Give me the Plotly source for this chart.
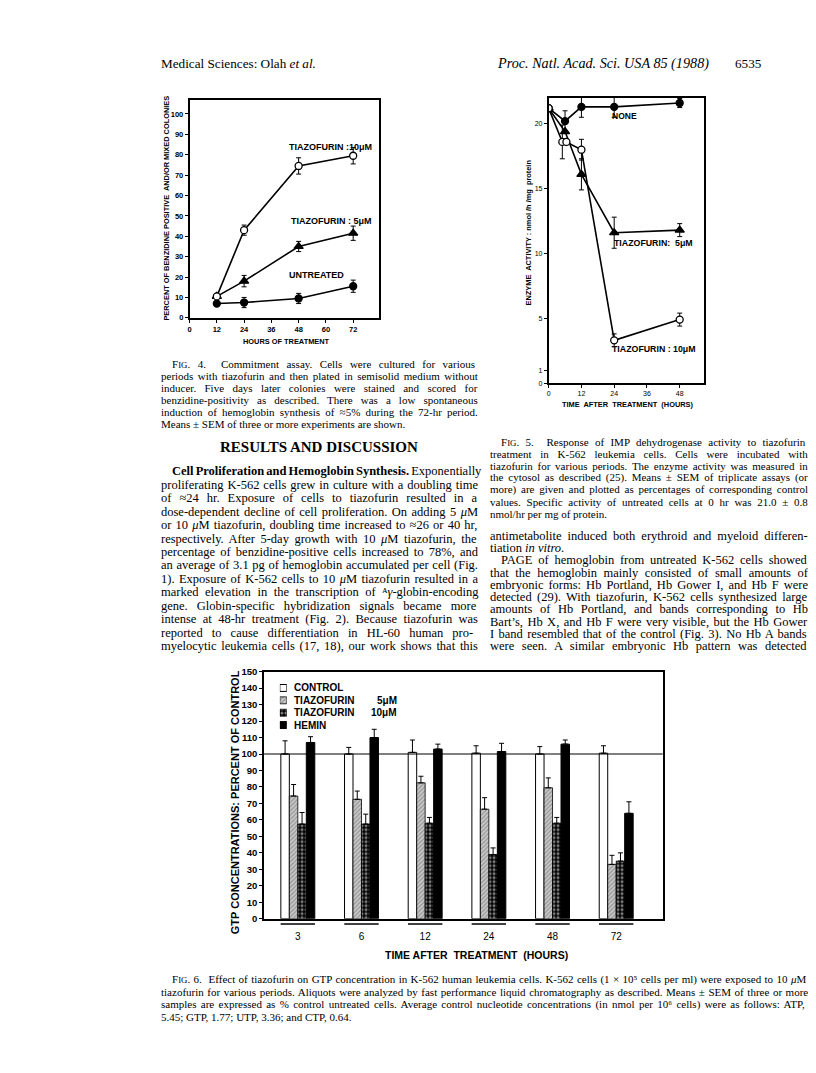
import re
import plotly.graph_objects as go

# the page body keeps its default 8px margin, so the figure is drawn 8px in
PAD = 8
W, H = 816 - PAD, 1073 - PAD
SERIF = 'Liberation Serif'
SANS = 'Liberation Sans'


def fx(px):
    return (px - PAD) / W


def fy(py):
    return 1 - (py - PAD) / H


# ---------------- Fig. 4 data (commitment assay)
hours4 = [12, 24, 48, 72]
tiaz10_4 = [10.5, 43, 74.5, 79.5]
tiaz10_4_err = [0, 2.5, 4, 4]
tiaz5_4 = [10.5, 18, 35, 41.5]
tiaz5_4_err = [0, 2.8, 2.5, 3.5]
untreated_4 = [7, 7.5, 9.5, 15.5]
untreated_4_err = [0, 2.5, 2.5, 3]
xticks4 = [0, 12, 24, 36, 48, 60, 72]

# ---------------- Fig. 5 data (IMP dehydrogenase activity)
hours5 = [0, 6, 12, 24, 48]
none_5 = [21.2, 20.2, 21.3, 21.3, 21.6]
none_5_err = [0, 0.8, 0.8, 0.8, 0.35]
tiaz5_5 = [21.2, 19.4, 16.1, 11.6, 11.8]
tiaz5_5_err = [0, 0, 1.2, 1.2, 0.5]
hours5_10 = [0, 5, 6.5, 12, 24, 48]
tiaz10_5 = [21.2, 18.6, 18.6, 18.0, 3.3, 4.9]
tiaz10_5_err = [0, 1.3, 0, 0.8, 0.5, 0.5]
xticks5 = [0, 12, 24, 36, 48]
yticks5 = [0, 1, 5, 10, 15, 20]

# ---------------- Fig. 6 data (GTP, % of control)
times6 = ['3', '6', '12', '24', '48', '72']
control6 = [100, 100, 101, 100.5, 100, 100.5]
control6_err = [8, 4, 7.5, 4.5, 4.5, 4.5]
tiaz5_6 = [74.5, 72.5, 82.5, 66.5, 79.5, 33]
tiaz5_6_err = [7, 5, 4, 7, 6, 5.5]
tiaz10_6 = [57.5, 57.5, 58, 39, 58, 35]
tiaz10_6_err = [7, 6, 3.5, 4, 3.5, 5]
hemin6 = [107, 110, 103, 101.5, 106, 64]
hemin6_err = [3.5, 5, 3, 5, 2.5, 7]
control_level = 100

# ---------------- page text
header_left = 'Medical Sciences: Olah <i>et al.</i>'
header_right = '<i>Proc. Natl. Acad. Sci. USA 85 (1988)</i>'
page_no = '6535'

smallcaps = "F<span style='font-size:8.8px'>IG</span>."

cap4 = [
    smallcaps + ' 4.  Commitment assay. Cells were cultured for various',
    'periods with tiazofurin and then plated in semisolid medium without',
    'inducer. Five days later colonies were stained and scored for',
    'benzidine-positivity as described. There was a low spontaneous',
    'induction of hemoglobin synthesis of ≈5% during the 72-hr period.',
    'Means ± SEM of three or more experiments are shown.',
]

body_left = [
    '<b>Cell Proliferation and Hemoglobin Synthesis.</b> Exponentially',
    'proliferating K-562 cells grew in culture with a doubling time',
    'of ≈24 hr. Exposure of cells to tiazofurin resulted in a',
    'dose-dependent decline of cell proliferation. On adding 5 <i>μ</i>M',
    'or 10 <i>μ</i>M tiazofurin, doubling time increased to ≈26 or 40 hr,',
    'respectively. After 5-day growth with 10 <i>μ</i>M tiazofurin, the',
    'percentage of benzidine-positive cells increased to 78%, and',
    'an average of 3.1 pg of hemoglobin accumulated per cell (Fig.',
    '1). Exposure of K-562 cells to 10 <i>μ</i>M tiazofurin resulted in a',
    'marked elevation in the transcription of ᴬ<i>γ</i>-globin-encoding',
    'gene. Globin-specific hybridization signals became more',
    'intense at 48-hr treatment (Fig. 2). Because tiazofurin was',
    'reported to cause differentiation in HL-60 human pro-',
    'myelocytic leukemia cells (17, 18), our work shows that this',
]

cap5 = [
    smallcaps + ' 5.  Response of IMP dehydrogenase activity to tiazofurin',
    'treatment in K-562 leukemia cells. Cells were incubated with',
    'tiazofurin for various periods. The enzyme activity was measured in',
    'the cytosol as described (25). Means ± SEM of triplicate assays (or',
    'more) are given and plotted as percentages of corresponding control',
    'values. Specific activity of untreated cells at 0 hr was 21.0 ± 0.8',
    'nmol/hr per mg of protein.',
]

body_right = [
    'antimetabolite induced both erythroid and myeloid differen-',
    'tiation <i>in vitro</i>.',
    'PAGE of hemoglobin from untreated K-562 cells showed',
    'that the hemoglobin mainly consisted of small amounts of',
    'embryonic forms: Hb Portland, Hb Gower I, and Hb F were',
    'detected (29). With tiazofurin, K-562 cells synthesized large',
    'amounts of Hb Portland, and bands corresponding to Hb',
    "Bart’s, Hb X, and Hb F were very visible, but the Hb Gower",
    'I band resembled that of the control (Fig. 3). No Hb A bands',
    'were seen. A similar embryonic Hb pattern was detected',
]

cap6 = [
    smallcaps + ' 6.  Effect of tiazofurin on GTP concentration in K-562 human leukemia cells. '
    'K-562 cells (1 × 10⁵ cells per ml) were exposed to 10 <i>μ</i>M',
    'tiazofurin for various periods. Aliquots were analyzed by fast performance liquid '
    'chromatography as described. Means ± SEM of three or more',
    'samples are expressed as % control untreated cells. Average control nucleotide '
    'concentrations (in nmol per 10⁶ cells) were as follows: ATP,',
    '5.45; GTP, 1.77; UTP, 3.36; and CTP, 0.64.',
]

# Times advance widths (1/1000 em), used to justify the text lines
TIMES = {}
for chars, w in [('abdghknopquvxy0123456789μ', 500), ('ace?', 444), ('zγ', 444),
                 ('fr-()’', 333), ('ijlt/:;', 278), ('s', 389), ('m', 778), ('w', 722),
                 ('ADGHKNOQUVXY', 722), ('BCR', 667), ('ELTZ', 611), ('FPS', 556),
                 ('I', 333), ('J', 389), ('M', 889), ('W', 944), (' ,.', 250),
                 ('%', 833), ('±≈×+=', 564), ('ᴬ⁵⁶', 330)]:
    for ch in chars:
        TIMES[ch] = w


def natural_width(html, size):
    total = 0
    for part in re.split(r'(<b>.*?</b>)', html):
        plain = re.sub(r'<[^>]+>', '', part)
        factor = 1.07 if part.startswith('<b>') else 1.0
        total += sum(TIMES.get(ch, 500) for ch in plain) * factor
    return total * size / 1000


def justify(html, size, width):
    spaces = re.sub(r'<[^>]+>', '', html).count(' ')
    gap = (width - natural_width(html, size)) / max(spaces, 1)
    gap = max(-1.0, min(gap, 6.0))
    return "<span style='word-spacing:%.2fpx'>%s</span>" % (gap, html)


annotations = []


def note(x, y, text, size, family=SERIF, anchor='left', angle=0, weight='normal'):
    annotations.append(dict(
        x=fx(x), y=fy(y), xref='paper', yref='paper', text=text, showarrow=False,
        xanchor=anchor, yanchor='middle', textangle=angle,
        font=dict(family=family, size=size, color='black', weight=weight),
    ))


def paragraph(lines, x0, y0, dy, size, width, indent_rows, last_rows):
    # annotation boxes carry ~3px of padding on the left
    for i, line in enumerate(lines):
        indent = 11 if i in indent_rows else 0
        text = line if i in last_rows else justify(line, size, width - indent)
        note(x0 - 3 + indent, y0 + dy * i, text, size)


# header
note(157, 58, header_left, 13.2)
note(494, 58, header_right, 14.2)
note(733, 58, page_no, 13.2)

# text blocks
paragraph(cap4, 160, 361.5, 12.2, 11, 317, {0}, {5})
note(318, 446, '<b>RESULTS AND DISCUSSION</b>', 15, anchor='center')
paragraph(body_left, 160, 470, 13.6, 12.5, 317, {0}, set())
paragraph(cap5, 490, 440, 12.2, 11, 318, {0}, {6})
paragraph(body_right, 490, 535, 12.45, 12.5, 318, {2}, {1})
paragraph(cap6, 160, 983.5, 12.5, 11, 648, {0}, {3})

# chart labels
note(165, 204, 'PERCENT OF BENZIDINE POSITIVE  AND/OR MIXED COLONIES', 7.4, SANS, 'center', -90, 'bold')
note(285, 339, 'HOURS OF TREATMENT', 7.4, SANS, 'center', 0, 'bold')
note(329, 142, 'TIAZOFURIN :10μM', 9, SANS, 'center', 0, 'bold')
note(330, 217, 'TIAZOFURIN : 5μM', 9, SANS, 'center', 0, 'bold')
note(315, 272, 'UNTREATED', 9, SANS, 'center', 0, 'bold')

note(528, 229, 'ENZYME  ACTIVITY : nmol /h /mg  protein', 7.4, SANS, 'center', -90, 'bold')
note(628, 403, 'TIME  AFTER  TREATMENT  (HOURS)', 7.4, SANS, 'center', 0, 'bold')
note(624, 111, 'NONE', 8.5, SANS, 'center', 0, 'bold')
note(653, 239, 'TIAZOFURIN:  5μM', 8.8, SANS, 'center', 0, 'bold')
note(654, 346, 'TIAZOFURIN : 10μM', 8.8, SANS, 'center', 0, 'bold')

note(233, 804, 'GTP CONCENTRATIONS: PERCENT OF CONTROL', 11, SANS, 'center', -90, 'bold')
note(476, 959, 'TIME AFTER  TREATMENT  (HOURS)', 10.5, SANS, 'center', 0, 'bold')

# ---------------- traces
fig = go.Figure()

ink = 'black'


def err(values):
    return dict(type='data', array=values, color=ink, thickness=1, width=2.5)


def line_trace(x, y, e, symbol, fill, size, xa, ya):
    return go.Scatter(
        x=x, y=y, mode='lines+markers', xaxis=xa, yaxis=ya, error_y=err(e),
        line=dict(color=ink, width=1.6),
        marker=dict(symbol=symbol, size=size, color=fill, line=dict(color=ink, width=1.3)),
    )


fig.add_trace(line_trace(hours4, untreated_4, untreated_4_err, 'circle', ink, 7, 'x', 'y'))
fig.add_trace(line_trace(hours4, tiaz5_4, tiaz5_4_err, 'triangle-up', ink, 8, 'x', 'y'))
fig.add_trace(line_trace(hours4, tiaz10_4, tiaz10_4_err, 'circle', 'white', 7, 'x', 'y'))

fig.add_trace(line_trace(hours5, none_5, none_5_err, 'circle', ink, 7, 'x2', 'y2'))
fig.add_trace(line_trace(hours5, tiaz5_5, tiaz5_5_err, 'triangle-up', ink, 8, 'x2', 'y2'))
fig.add_trace(line_trace(hours5_10, tiaz10_5, tiaz10_5_err, 'circle', 'white', 7, 'x2', 'y2'))

bar_styles = [
    dict(color='white', line=dict(color=ink, width=1)),
    dict(color='#bdbdbd', line=dict(color=ink, width=0.8),
         pattern=dict(shape='/', fgcolor='#555555', bgcolor='#c8c8c8', size=3, solidity=0.35)),
    dict(color='black', line=dict(color=ink, width=0.8),
         pattern=dict(shape='.', fgcolor='white', bgcolor='black', size=4, solidity=0.45)),
    dict(color='black', line=dict(color=ink, width=1)),
]
series6 = [(control6, control6_err), (tiaz5_6, tiaz5_6_err), (tiaz10_6, tiaz10_6_err), (hemin6, hemin6_err)]

for (vals, errs), style in zip(series6, bar_styles):
    fig.add_trace(go.Bar(
        x=times6, y=vals, xaxis='x3', yaxis='y3', marker=style,
        error_y=dict(type='data', symmetric=False, array=errs, arrayminus=[0] * len(errs),
                     color=ink, thickness=1, width=2.5),
    ))

# legend of Fig. 6 (drawn by hand: tight row spacing)
legend_names = ['CONTROL', 'TIAZOFURIN', 'TIAZOFURIN', 'HEMIN']
legend_conc = ['', '5μM', '10μM', '']
legend_rows = [689, 701.5, 714, 726.5]
for row, name, conc, style in zip(legend_rows, legend_names, legend_conc, bar_styles):
    fig.add_trace(go.Bar(x=[0], y=[7], base=[row - 3.5], width=1, offset=-0.5,
                         xaxis='x4', yaxis='y4', marker=style))
    note(291, row, name, 10, SANS, 'left', 0, 'bold')
    if conc:
        note(398, row, conc, 10, SANS, 'right', 0, 'bold')

# ---------------- axes
frame = dict(showline=True, linecolor=ink, linewidth=1.5, mirror=True, showgrid=False,
             zeroline=False, ticks='outside', ticklen=3, tickwidth=1, tickcolor=ink)
tick_small = dict(family=SANS, size=7.5, color=ink, weight='bold')

shapes = [dict(type='line', xref='x3 domain', x0=0, x1=1, yref='y3',
               y0=control_level, y1=control_level, line=dict(color=ink, width=1.2))]
for i in range(len(times6)):
    shapes.append(dict(type='line', xref='x3', yref='paper', x0=i - 0.27, x1=i + 0.27,
                       y0=fy(927.5), y1=fy(927.5), line=dict(color=ink, width=1.6)))

fig.update_layout(
    width=W, height=H, margin=dict(l=0, r=0, t=0, b=0),
    paper_bgcolor='white', plot_bgcolor='white', showlegend=False,
    barmode='group', bargap=0.467, bargroupgap=0,
    xaxis=dict(frame, domain=[fx(188), fx(378)], range=[0, 83.4], tickvals=xticks4,
               tickfont=tick_small, anchor='y'),
    yaxis=dict(frame, domain=[fy(315), fy(95)], range=[0, 106.8], dtick=10,
               tickfont=tick_small, anchor='x'),
    xaxis2=dict(frame, domain=[fx(548), fx(704)], range=[0, 57], tickvals=xticks5,
                tickfont=dict(tick_small, size=7, weight='normal'), anchor='y2'),
    yaxis2=dict(frame, domain=[fy(381), fy(92.7)], range=[0, 22], tickvals=yticks5,
                tickfont=dict(tick_small, size=7, weight='normal'), anchor='x2'),
    xaxis3=dict(frame, domain=[fx(262.7), fx(662.3)], type='category', range=[-0.53, 5.73],
                ticks='', ticklabelstandoff=7,
                tickfont=dict(family=SANS, size=10, color=ink), anchor='y3'),
    yaxis3=dict(frame, domain=[fy(922.2), fy(672.5)], range=[0, 150], dtick=10,
                tickfont=dict(family=SANS, size=9.5, color=ink, weight='bold'), anchor='x3'),
    xaxis4=dict(domain=[fx(278.5), fx(285.5)], range=[-0.5, 0.5], visible=False, anchor='y4'),
    yaxis4=dict(domain=[fy(735), fy(680)], range=[735, 680], visible=False, anchor='x4'),
    annotations=annotations,
    shapes=shapes,
)

fig.write_html('out.html')
